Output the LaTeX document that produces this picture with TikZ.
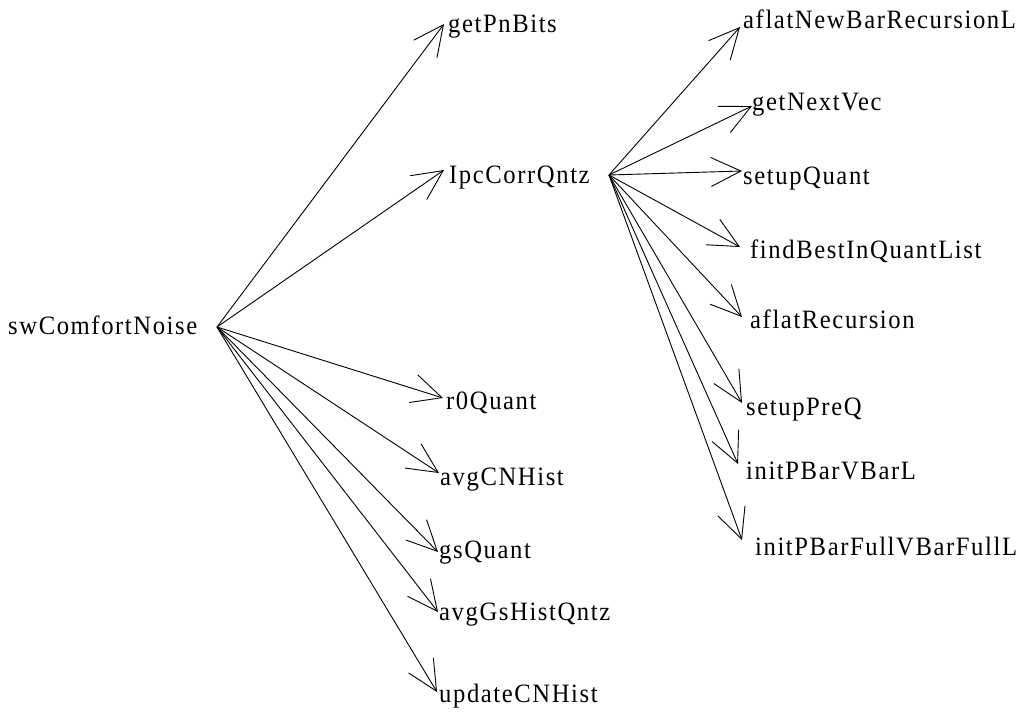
\documentclass[tikz,border=0pt]{standalone}
\usepackage{fontspec}
\setmainfont{Liberation Serif}[LetterSpace=6,FakeStretch=0.93]
\usetikzlibrary{arrows.meta}
\begin{document}
\begin{tikzpicture}[x=1pt,y=-1pt,
  fn/.style={anchor=base west,inner sep=0pt,font=\fontsize{26.5}{30}\selectfont},
  arr/.style={line width=0.9pt,-{Straight Barb[length=30pt,width=29pt,line width=0.9pt]}}]
\useasboundingbox (0,0) rectangle (1017,716);
% nodes
\node[fn] (sw) at (8,334) {swComfortNoise};
\node[fn] (gp) at (448,32) {getPnBits};
\node[fn] (lc) at (449,183) {IpcCorrQntz};
\node[fn] (rq) at (446,409) {r0Quant};
\node[fn] (ac) at (440,485) {avgCNHist};
\node[fn] (gq) at (439,558) {gsQuant};
\node[fn] (ag) at (439,620) {avgGsHistQntz};
\node[fn] (uc) at (439,702) {updateCNHist};
\node[fn] (an) at (743,28) {aflatNewBarRecursionL};
\node[fn] (nv) at (752,110) {getNextVec};
\node[fn] (sq) at (743,184) {setupQuant};
\node[fn] (fb) at (750,258) {findBestInQuantList};
\node[fn] (ar) at (750,328) {aflatRecursion};
\node[fn] (sp) at (746,415) {setupPreQ};
\node[fn] (iv) at (746,479) {initPBarVBarL};
\node[fn] (if) at (755,555) {initPBarFullVBarFullL};
% connectors from swComfortNoise
\draw[arr] ([shift={(209,-7)}]sw.base west) -- ([shift={(-4,-8)}]gp.base west);
\draw[arr] ([shift={(209,-7)}]sw.base west) -- ([shift={(-5,-13)}]lc.base west);
\draw[arr] ([shift={(209,-7)}]sw.base west) -- ([shift={(-3,-11)}]rq.base west);
\draw[arr] ([shift={(209,-7)}]sw.base west) -- ([shift={(-1,-12)}]ac.base west);
\draw[arr] ([shift={(209,-7)}]sw.base west) -- ([shift={(-1,-6)}]gq.base west);
\draw[arr] ([shift={(209,-7)}]sw.base west) -- ([shift={(-1,-8)}]ag.base west);
\draw[arr] ([shift={(209,-7)}]sw.base west) -- ([shift={(-2,-10)}]uc.base west);
% connectors from IpcCorrQntz
\draw[arr] ([shift={(160,-8)}]lc.base west) -- ([shift={(-3,-1)}]an.base west);
\draw[arr] ([shift={(160,-8)}]lc.base west) -- ([shift={(0,-4)}]nv.base west);
\draw[arr] ([shift={(160,-8)}]lc.base west) -- ([shift={(-1,-13)}]sq.base west);
\draw[arr] ([shift={(160,-8)}]lc.base west) -- ([shift={(-10,-11)}]fb.base west);
\draw[arr] ([shift={(160,-8)}]lc.base west) -- ([shift={(-8,-11)}]ar.base west);
\draw[arr] ([shift={(160,-8)}]lc.base west) -- ([shift={(-4,-12)}]sp.base west);
\draw[arr] ([shift={(160,-8)}]lc.base west) -- ([shift={(-8,-15)}]iv.base west);
\draw[arr] ([shift={(160,-8)}]lc.base west) -- ([shift={(-13,-15)}]if.base west);
\end{tikzpicture}
\end{document}
